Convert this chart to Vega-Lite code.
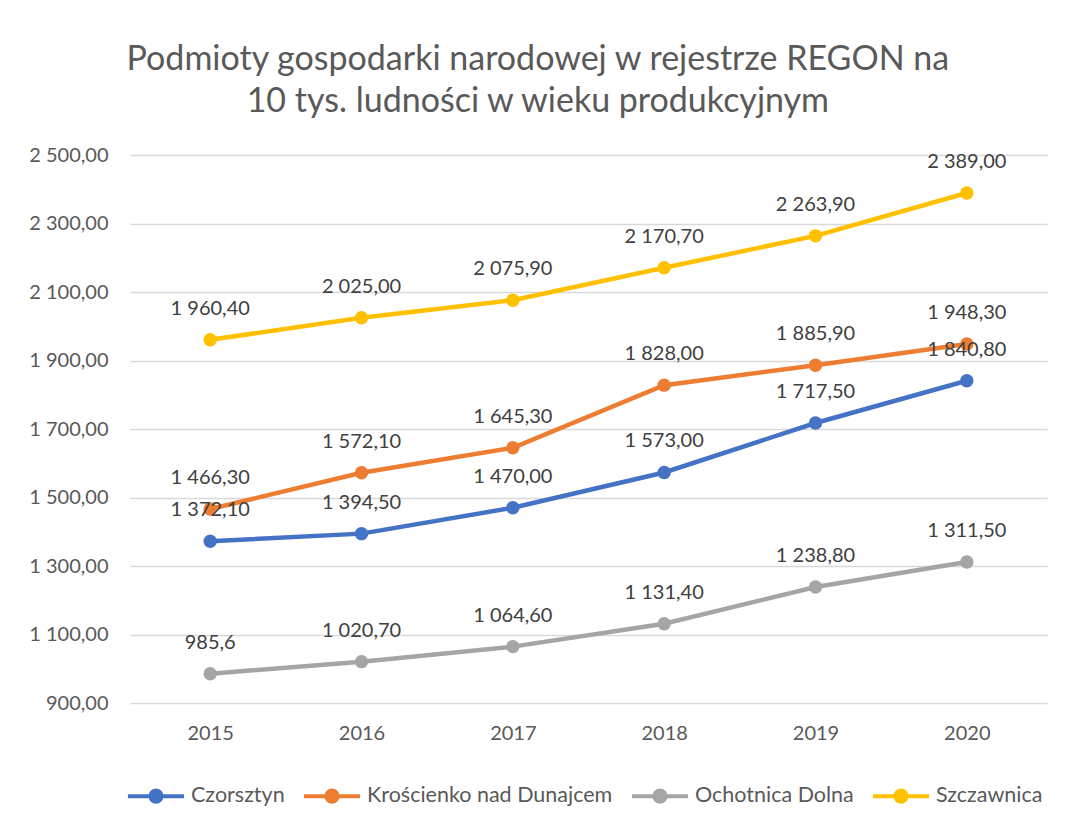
{
  "$schema": "https://vega.github.io/schema/vega-lite/v6.json",
  "width": 917,
  "height": 548,
  "padding": {"left": 28, "top": 43, "right": 15, "bottom": 10},
  "background": "white",
  "config": {
    "font": "Lato",
    "locale": {"number": {"decimal": ",", "thousands": " ", "grouping": [3], "currency": ["", ""]}},
    "view": {"stroke": null},
    "legend": {"layout": {"bottom": {"anchor": "middle", "direction": "horizontal"}}},
    "axis": {"labelFont": "Lato", "labelFontSize": 20, "labelColor": "#595959", "gridColor": "#d9d9d9", "gridWidth": 1.3, "domain": false, "ticks": false}
  },
  "title": {
    "text": ["Podmioty gospodarki narodowej w rejestrze REGON na", "10 tys. ludności w wieku produkcyjnym"],
    "fontSize": 34,
    "font": "Lato",
    "fontWeight": "normal",
    "color": "#595959",
    "anchor": "middle",
    "frame": "bounds",
    "lineHeight": 42,
    "offset": 26
  },
  "data": {
    "values": [
      {"rok": "2015", "gmina": "Czorsztyn", "wartosc": 1372.1, "etykieta": "1 372,10"},
      {"rok": "2016", "gmina": "Czorsztyn", "wartosc": 1394.5, "etykieta": "1 394,50"},
      {"rok": "2017", "gmina": "Czorsztyn", "wartosc": 1470.0, "etykieta": "1 470,00"},
      {"rok": "2018", "gmina": "Czorsztyn", "wartosc": 1573.0, "etykieta": "1 573,00"},
      {"rok": "2019", "gmina": "Czorsztyn", "wartosc": 1717.5, "etykieta": "1 717,50"},
      {"rok": "2020", "gmina": "Czorsztyn", "wartosc": 1840.8, "etykieta": "1 840,80"},
      {"rok": "2015", "gmina": "Krościenko nad Dunajcem", "wartosc": 1466.3, "etykieta": "1 466,30"},
      {"rok": "2016", "gmina": "Krościenko nad Dunajcem", "wartosc": 1572.1, "etykieta": "1 572,10"},
      {"rok": "2017", "gmina": "Krościenko nad Dunajcem", "wartosc": 1645.3, "etykieta": "1 645,30"},
      {"rok": "2018", "gmina": "Krościenko nad Dunajcem", "wartosc": 1828.0, "etykieta": "1 828,00"},
      {"rok": "2019", "gmina": "Krościenko nad Dunajcem", "wartosc": 1885.9, "etykieta": "1 885,90"},
      {"rok": "2020", "gmina": "Krościenko nad Dunajcem", "wartosc": 1948.3, "etykieta": "1 948,30"},
      {"rok": "2015", "gmina": "Ochotnica Dolna", "wartosc": 985.6, "etykieta": "985,6"},
      {"rok": "2016", "gmina": "Ochotnica Dolna", "wartosc": 1020.7, "etykieta": "1 020,70"},
      {"rok": "2017", "gmina": "Ochotnica Dolna", "wartosc": 1064.6, "etykieta": "1 064,60"},
      {"rok": "2018", "gmina": "Ochotnica Dolna", "wartosc": 1131.4, "etykieta": "1 131,40"},
      {"rok": "2019", "gmina": "Ochotnica Dolna", "wartosc": 1238.8, "etykieta": "1 238,80"},
      {"rok": "2020", "gmina": "Ochotnica Dolna", "wartosc": 1311.5, "etykieta": "1 311,50"},
      {"rok": "2015", "gmina": "Szczawnica", "wartosc": 1960.4, "etykieta": "1 960,40"},
      {"rok": "2016", "gmina": "Szczawnica", "wartosc": 2025.0, "etykieta": "2 025,00"},
      {"rok": "2017", "gmina": "Szczawnica", "wartosc": 2075.9, "etykieta": "2 075,90"},
      {"rok": "2018", "gmina": "Szczawnica", "wartosc": 2170.7, "etykieta": "2 170,70"},
      {"rok": "2019", "gmina": "Szczawnica", "wartosc": 2263.9, "etykieta": "2 263,90"},
      {"rok": "2020", "gmina": "Szczawnica", "wartosc": 2389.0, "etykieta": "2 389,00"}
    ]
  },
  "encoding": {
    "x": {"field": "rok", "type": "ordinal", "scale": {"type": "point", "padding": 0.53},
      "axis": {"title": null, "labelAngle": 0, "grid": false, "labelPadding": 20}},
    "y": {"field": "wartosc", "type": "quantitative",
      "scale": {"domain": [900, 2500], "nice": false, "zero": false},
      "axis": {"title": null, "values": [900, 1100, 1300, 1500, 1700, 1900, 2100, 2300, 2500], "format": ",.2f", "labelPadding": 22}}
  },
  "layer": [
    {
      "mark": {"type": "line", "strokeWidth": 4.5, "point": {"size": 180, "filled": true, "opacity": 1}},
      "encoding": {
        "color": {"field": "gmina", "type": "nominal",
          "scale": {"domain": ["Czorsztyn", "Krościenko nad Dunajcem", "Ochotnica Dolna", "Szczawnica"], "range": ["#4472C4", "#ED7D31", "#A5A5A5", "#FFC000"]},
          "legend": {"title": null, "orient": "bottom", "direction": "horizontal", "labelFontSize": 21.5, "labelFont": "Lato", "labelColor": "#595959", "labelLimit": 400,
            "symbolType": "M-1.5,0H1.5M-0.3,0A0.3,0.3 0 1,1 0.3,0A0.3,0.3 0 1,1 -0.3,0Z",
            "symbolSize": 1400, "symbolStrokeWidth": 4, "columnPadding": 10, "labelOffset": 14, "offset": 32,
            "encode": {"symbols": {"update": {"fill": {"scale": "color", "field": "value"}, "stroke": {"scale": "color", "field": "value"}, "opacity": {"value": 1}, "fillOpacity": {"value": 1}}}}}
        }
      }
    },
    {
      "mark": {"type": "text", "fontSize": 20, "font": "Lato", "color": "#404040", "baseline": "middle", "dy": -31},
      "encoding": {"text": {"field": "etykieta"}}
    }
  ]
}
